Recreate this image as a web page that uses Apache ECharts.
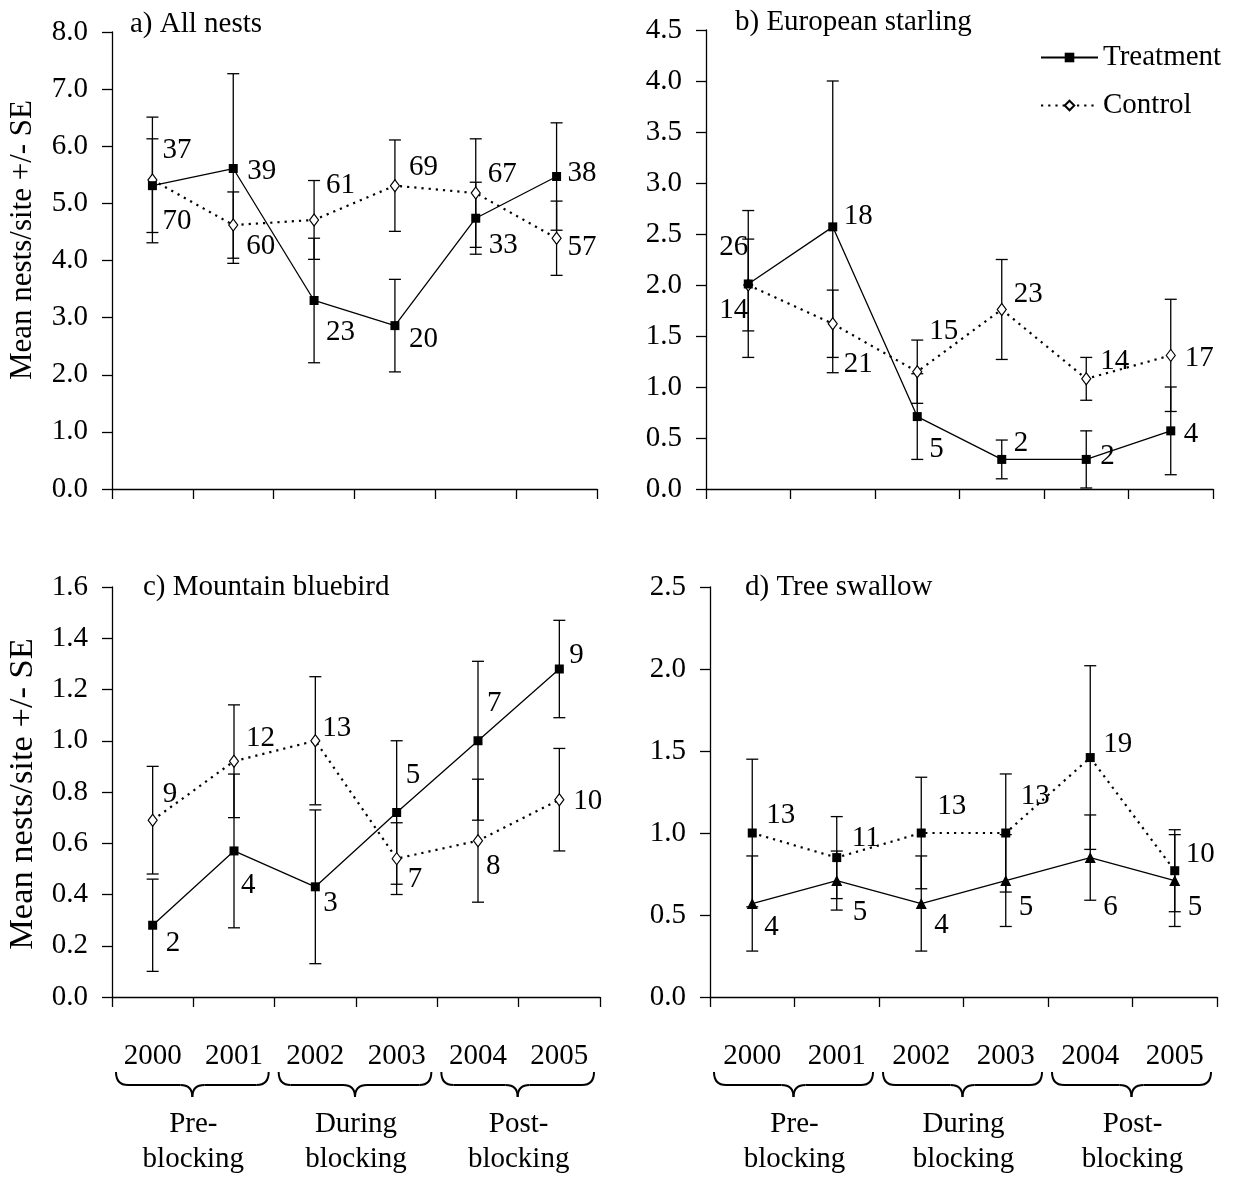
<!DOCTYPE html>
<html><head><meta charset="utf-8">
<script src="https://cdn.jsdelivr.net/npm/echarts@6/dist/echarts.min.js"></script>
<style>html,body{margin:0;padding:0;background:#fff}#c{width:1241px;height:1182px}</style>
</head><body><div id="c"></div>
<script>
// ---------- data ----------
const years = ['2000', '2001', '2002', '2003', '2004', '2005'];
const groups = ['Pre-\nblocking', 'During\nblocking', 'Post-\nblocking'];

// a) All nests
const aTreat   = [5.31, 5.61, 3.30, 2.86, 4.74, 5.47];
const aTreatSE = [0.82, 1.66, 1.09, 0.81, 0.63, 0.94];
const aTreatN  = [37, 39, 23, 20, 33, 38];
const aCtrl    = [5.41, 4.62, 4.71, 5.31, 5.18, 4.39];
const aCtrlSE  = [1.10, 0.58, 0.69, 0.80, 0.95, 0.65];
const aCtrlN   = [70, 60, 61, 69, 67, 57];

// b) European starling
const bTreat   = [2.01, 2.57, 0.71, 0.29, 0.29, 0.57];
const bTreatSE = [0.72, 1.43, 0.42, 0.19, 0.28, 0.43];
const bTreatN  = [26, 18, 5, 2, 2, 4];
const bCtrl    = [2.00, 1.62, 1.15, 1.76, 1.08, 1.31];
const bCtrlSE  = [0.45, 0.33, 0.31, 0.49, 0.21, 0.55];
const bCtrlN   = [14, 21, 15, 23, 14, 17];

// c) Mountain bluebird
const cTreat   = [0.28, 0.57, 0.43, 0.72, 1.00, 1.28];
const cTreatSE = [0.18, 0.30, 0.30, 0.28, 0.31, 0.19];
const cTreatN  = [2, 4, 3, 5, 7, 9];
const cCtrl    = [0.69, 0.92, 1.00, 0.54, 0.61, 0.77];
const cCtrlSE  = [0.21, 0.22, 0.25, 0.14, 0.24, 0.20];
const cCtrlN   = [9, 12, 13, 7, 8, 10];

// d) Tree swallow
const dTreat   = [0.57, 0.71, 0.57, 0.71, 0.85, 0.71];
const dTreatSE = [0.29, 0.18, 0.29, 0.28, 0.26, 0.28];
const dTreatN  = [4, 5, 4, 5, 6, 5];
const dCtrl    = [1.00, 0.85, 1.00, 1.00, 1.46, 0.77];
const dCtrlSE  = [0.45, 0.25, 0.34, 0.36, 0.56, 0.25];
const dCtrlN   = [13, 11, 13, 13, 19, 10];

// ---------- layout (label offsets in px from each point) ----------
const aTreatOff = [[10,-35],[14,3],[12,32],[14,14],[13,27],[11,-3]];
const aCtrlOff  = [[10,41],[13,21],[12,-35],[14,-18],[12,-19],[11,9]];
const bTreatOff = [[-29,-37],[11,-10],[12,33],[12,-16],[14,-3],[13,4]];
const bCtrlOff  = [[-29,25],[11,41],[12,-40],[12,-15],[14,-17],[14,3]];
const cTreatOff = [[13,18],[7,34],[8,17],[9,-37],[9,-37],[10,-14]];
const cCtrlOff  = [[10,-26],[12,-23],[7,-12],[11,21],[8,26],[14,2]];
const dTreatOff = [[12,24],[16,32],[13,22],[13,27],[13,50],[13,27]];
const dCtrlOff  = [[14,-18],[15,-19],[16,-27],[15,-37],[13,-13],[11,-16]];

const FONT = "'Liberation Serif', 'Times New Roman', serif";
const FS = 29;
const BLACK = '#000';
const Y_TITLE = 'Mean nests/site +/- SE';

const panels = [
  {title: 'a) All nests', tx: 130, ty: 24, grid: {left: 112, top: 32, width: 485, height: 457}, max: 8, interval: 1, yName: {y: 240, fs: 31}, xLabels: false,
   treat: aTreat, treatSE: aTreatSE, treatN: aTreatN, treatOff: aTreatOff,
   ctrl: aCtrl, ctrlSE: aCtrlSE, ctrlN: aCtrlN, ctrlOff: aCtrlOff, swallow: false},
  {title: 'b) European starling', tx: 735, ty: 22, grid: {left: 706, top: 30, width: 507, height: 459}, max: 4.5, interval: 0.5, yName: null, xLabels: false,
   treat: bTreat, treatSE: bTreatSE, treatN: bTreatN, treatOff: bTreatOff,
   ctrl: bCtrl, ctrlSE: bCtrlSE, ctrlN: bCtrlN, ctrlOff: bCtrlOff, swallow: false},
  {title: 'c) Mountain bluebird', tx: 143, ty: 587, grid: {left: 112, top: 587, width: 488, height: 410}, max: 1.6, interval: 0.2, yName: {y: 794, fs: 34.5}, xLabels: true,
   treat: cTreat, treatSE: cTreatSE, treatN: cTreatN, treatOff: cTreatOff,
   ctrl: cCtrl, ctrlSE: cCtrlSE, ctrlN: cCtrlN, ctrlOff: cCtrlOff, swallow: false},
  {title: 'd) Tree swallow', tx: 745, ty: 587, grid: {left: 710, top: 587, width: 507, height: 410}, max: 2.5, interval: 0.5, yName: null, xLabels: true,
   treat: dTreat, treatSE: dTreatSE, treatN: dTreatN, treatOff: dTreatOff,
   ctrl: dCtrl, ctrlSE: dCtrlSE, ctrlN: dCtrlN, ctrlOff: dCtrlOff, swallow: true}
];

function renderErr(params, api) {
  const x = api.value(0), lo = api.value(1), hi = api.value(2);
  const p1 = api.coord([x, hi]), p2 = api.coord([x, lo]);
  const w = 6;
  const st = {stroke: BLACK, lineWidth: 1.3};
  return {type: 'group', children: [
    {type: 'line', shape: {x1: p1[0], y1: p1[1], x2: p2[0], y2: p2[1]}, style: st},
    {type: 'line', shape: {x1: p1[0] - w, y1: p1[1], x2: p1[0] + w, y2: p1[1]}, style: st},
    {type: 'line', shape: {x1: p2[0] - w, y1: p2[1], x2: p2[0] + w, y2: p2[1]}, style: st}
  ]};
}
function renderLbl(params, api) {
  const p = api.coord([api.value(0), api.value(1)]);
  return {type: 'text', x: p[0] + api.value(3), y: p[1] + api.value(4),
    style: {text: String(api.value(2)), fontSize: FS, fontFamily: FONT, fill: BLACK, align: 'left', verticalAlign: 'middle'}};
}

const grid = [], xAxis = [], yAxis = [], series = [], graphic = [];
const axisLine = {show: true, lineStyle: {color: BLACK, width: 1.3}};
const axisTick = {show: true, length: 10, inside: false, lineStyle: {color: BLACK, width: 1.3}};

panels.forEach((p, k) => {
  grid.push(Object.assign({containLabel: false}, p.grid));
  xAxis.push({type: 'category', gridIndex: k, data: years, boundaryGap: true,
    axisLine, axisTick: Object.assign({alignWithLabel: false}, axisTick),
    axisLabel: {show: p.xLabels, margin: 45, fontSize: FS, fontFamily: FONT, color: BLACK, interval: 0},
    splitLine: {show: false}});
  yAxis.push({type: 'value', gridIndex: k, min: 0, max: p.max, interval: p.interval,
    axisLine, axisTick,
    axisLabel: {margin: 24, fontSize: FS, fontFamily: FONT, color: BLACK, formatter: v => v.toFixed(1)},
    splitLine: {show: false}});
  graphic.push({type: 'text', x: p.tx, y: p.ty, style: {text: p.title, fontSize: FS, fontFamily: FONT, fill: BLACK, verticalAlign: 'middle'}});
  if (p.yName) {
    graphic.push({type: 'text', x: 23, y: p.yName.y, rotation: Math.PI / 2,
      style: {text: Y_TITLE, fontSize: p.yName.fs, fontFamily: FONT, fill: BLACK, align: 'center', verticalAlign: 'middle'}});
  }

  const xi = xAxis.length - 1, yi = yAxis.length - 1;
  // error bars
  series.push({type: 'custom', name: 'errT' + k, xAxisIndex: xi, yAxisIndex: yi, renderItem: renderErr, z: 2,
    encode: {x: 0, y: [1, 2]}, silent: true,
    data: p.treat.map((v, i) => [i, v - p.treatSE[i], v + p.treatSE[i]])});
  series.push({type: 'custom', name: 'errC' + k, xAxisIndex: xi, yAxisIndex: yi, renderItem: renderErr, z: 2,
    encode: {x: 0, y: [1, 2]}, silent: true,
    data: p.ctrl.map((v, i) => [i, v - p.ctrlSE[i], v + p.ctrlSE[i]])});
  // lines
  series.push({type: 'line', name: 'Control', xAxisIndex: xi, yAxisIndex: yi, z: 3, data: p.ctrl,
    symbol: p.swallow ? 'rect' : 'diamond', symbolSize: p.swallow ? 9 : [9, 12],
    showAllSymbol: true, animation: false,
    itemStyle: p.swallow ? {color: BLACK} : {color: '#fff', borderColor: BLACK, borderWidth: 1.2},
    lineStyle: {color: BLACK, width: 2.2, type: [2.2, 5]}});
  series.push({type: 'line', name: 'Treatment', xAxisIndex: xi, yAxisIndex: yi, z: 4, data: p.treat,
    symbol: p.swallow ? 'triangle' : 'rect', symbolSize: p.swallow ? 11 : 9,
    showAllSymbol: true, animation: false,
    itemStyle: {color: BLACK},
    lineStyle: {color: BLACK, width: 1.3, type: 'solid'}});
  // n labels
  series.push({type: 'custom', name: 'lblT' + k, xAxisIndex: xi, yAxisIndex: yi, renderItem: renderLbl, z: 5, silent: true,
    encode: {x: 0, y: 1},
    data: p.treat.map((v, i) => [i, v, p.treatN[i], p.treatOff[i][0], p.treatOff[i][1]])});
  series.push({type: 'custom', name: 'lblC' + k, xAxisIndex: xi, yAxisIndex: yi, renderItem: renderLbl, z: 5, silent: true,
    encode: {x: 0, y: 1},
    data: p.ctrl.map((v, i) => [i, v, p.ctrlN[i], p.ctrlOff[i][0], p.ctrlOff[i][1]])});

  if (p.xLabels) {
    xAxis.push({type: 'category', gridIndex: k, data: groups, position: 'bottom', boundaryGap: true,
      axisLine: {show: false}, axisTick: {show: false}, splitLine: {show: false},
      axisLabel: {margin: 110, fontSize: FS, fontFamily: FONT, color: BLACK, lineHeight: 35, interval: 0}});
  }
});

const chart = echarts.init(document.getElementById('c'), null, {renderer: 'canvas'});
chart.setOption({
  animation: false,
  backgroundColor: '#fff',
  textStyle: {fontFamily: FONT},
  grid, xAxis, yAxis, series, graphic,
  legend: {data: ['Treatment', 'Control'], orient: 'vertical', left: 1035, top: 38, itemWidth: 57, itemHeight: 12, itemGap: 19,
    selectedMode: false, textStyle: {fontSize: FS, fontFamily: FONT, color: BLACK}}
});

// braces under the year labels, positioned from the axis scale
function braces() {
  const extra = [];
  const st = {stroke: BLACK, lineWidth: 2, fill: null};
  panels.forEach((p, k) => {
    if (!p.xLabels) return;
    const xi = k === 2 ? 2 : 4; // index of the year axis
    const c0 = chart.convertToPixel({xAxisIndex: xi}, 0);
    const c1 = chart.convertToPixel({xAxisIndex: xi}, 1);
    const cw = c1 - c0;
    const ay = chart.convertToPixel({yAxisIndex: k}, 0);
    const y0 = ay + 75, y1 = ay + 88, y2 = ay + 100, r = 12;
    for (let g = 0; g < 3; g++) {
      const xl = chart.convertToPixel({xAxisIndex: xi}, 2 * g) - cw / 2 + 4;
      const xr = chart.convertToPixel({xAxisIndex: xi}, 2 * g + 1) + cw / 2 - 6;
      const xm = (xl + xr) / 2;
      extra.push({type: 'bezierCurve', shape: {x1: xl, y1: y0, x2: xl + r, y2: y1, cpx1: xl, cpy1: y1}, style: st});
      extra.push({type: 'line', shape: {x1: xl + r, y1: y1, x2: xm - r, y2: y1}, style: st});
      extra.push({type: 'bezierCurve', shape: {x1: xm - r, y1: y1, x2: xm, y2: y2, cpx1: xm, cpy1: y1}, style: st});
      extra.push({type: 'bezierCurve', shape: {x1: xm, y1: y2, x2: xm + r, y2: y1, cpx1: xm, cpy1: y1}, style: st});
      extra.push({type: 'line', shape: {x1: xm + r, y1: y1, x2: xr - r, y2: y1}, style: st});
      extra.push({type: 'bezierCurve', shape: {x1: xr - r, y1: y1, x2: xr, y2: y0, cpx1: xr, cpy1: y1}, style: st});
    }
  });
  chart.setOption({graphic: graphic.concat(extra)});
}
braces();
</script></body></html>
